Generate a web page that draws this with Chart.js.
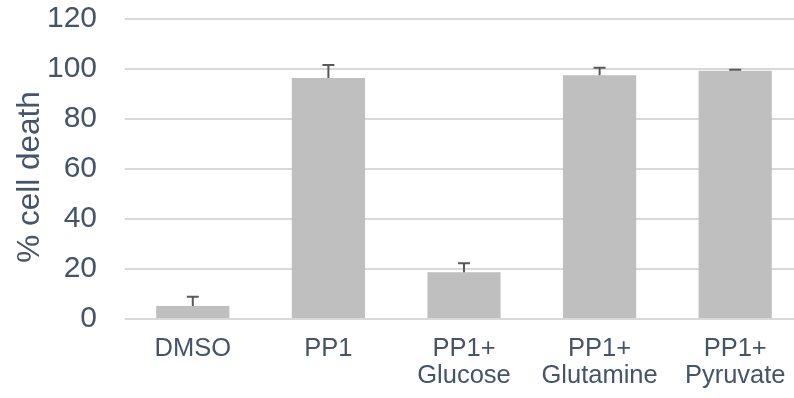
<!DOCTYPE html>
<html>
<head>
<meta charset="utf-8">
<script src="https://cdn.jsdelivr.net/npm/chart.js@4/dist/chart.umd.min.js"></script>
<style>
  html, body { margin: 0; padding: 0; background: #ffffff; overflow: hidden; }
  #wrap { width: 803px; height: 398px; }
</style>
</head>
<body>
<div id="wrap"><canvas id="chart" width="803" height="398"></canvas></div>
<script>
// Treatment groups (multi-line labels)
const categories = [
  'DMSO',
  'PP1',
  ['PP1+', 'Glucose'],
  ['PP1+', 'Glutamine'],
  ['PP1+', 'Pyruvate']
];
// Mean % cell death per group
const cellDeath = [5.2, 96.4, 18.7, 97.5, 99.3];
// Upper error (SD) per group
const cellDeathErr = [3.7, 5.2, 3.6, 3.0, 0.4];
// Y axis ticks
const yTicks = [0, 20, 40, 60, 80, 100, 120];
const yTitle = '% cell death';

const textColor = 'rgb(68,84,106)';
const fontFamily = '"Liberation Sans", Arial, sans-serif';

// Draws the plus-direction error bars with caps on top of each bar
const errorBarPlugin = {
  id: 'errorBars',
  afterDatasetsDraw(chart) {
    const meta = chart.getDatasetMeta(0);
    const yScale = chart.scales.y;
    const ctx = chart.ctx;
    ctx.save();
    ctx.strokeStyle = '#595959';
    ctx.lineWidth = 2;
    meta.data.forEach((bar, i) => {
      const x = bar.x;
      const yTop = bar.y;
      const yErr = yScale.getPixelForValue(cellDeath[i] + cellDeathErr[i]);
      ctx.beginPath();
      ctx.moveTo(x, yTop);
      ctx.lineTo(x, yErr);
      ctx.moveTo(x - 6, yErr);
      ctx.lineTo(x + 6, yErr);
      ctx.stroke();
    });
    ctx.restore();
  }
};

// Rotated y-axis title, placed a little below the plot's vertical centre
const yTitlePlugin = {
  id: 'yTitle',
  afterDraw(chart) {
    const area = chart.chartArea;
    const ctx = chart.ctx;
    ctx.save();
    ctx.translate(30, (area.top + area.bottom) / 2 + 8);
    ctx.rotate(-Math.PI / 2);
    ctx.font = '31.5px ' + fontFamily;
    ctx.fillStyle = textColor;
    ctx.textAlign = 'center';
    ctx.textBaseline = 'middle';
    ctx.fillText(yTitle, 0, 0);
    ctx.restore();
  }
};

new Chart(document.getElementById('chart'), {
  type: 'bar',
  data: {
    labels: categories,
    datasets: [{
      data: cellDeath,
      backgroundColor: '#BFBFBF',
      borderWidth: 0,
      barPercentage: 0.54,
      categoryPercentage: 1.0
    }]
  },
  options: {
    responsive: false,
    animation: false,
    devicePixelRatio: 1,
    layout: { padding: { top: 19, left: 0, right: 0, bottom: 0 } },
    plugins: {
      legend: { display: false },
      tooltip: { enabled: false }
    },
    scales: {
      x: {
        grid: { display: false, drawTicks: false },
        border: { display: false },
        ticks: {
          color: textColor,
          font: { family: fontFamily, size: 25.5, lineHeight: 1.06 },
          padding: 16,
          maxRotation: 0,
          autoSkip: false
        },
        afterFit(scale) { scale.height = 79; }
      },
      y: {
        min: 0,
        max: 120,
        afterBuildTicks(scale) { scale.ticks = yTicks.map(v => ({ value: v })); },
        grid: { color: '#D9D9D9', lineWidth: 2, drawTicks: false },
        border: { display: false },
        ticks: {
          color: textColor,
          font: { family: fontFamily, size: 30 },
          padding: 28
        },
        afterFit(scale) {
          scale.width = 125;
          scale.paddingTop = 0;
          scale.paddingBottom = 0;
        }
      }
    }
  },
  plugins: [errorBarPlugin, yTitlePlugin]
});
</script>
</body>
</html>
